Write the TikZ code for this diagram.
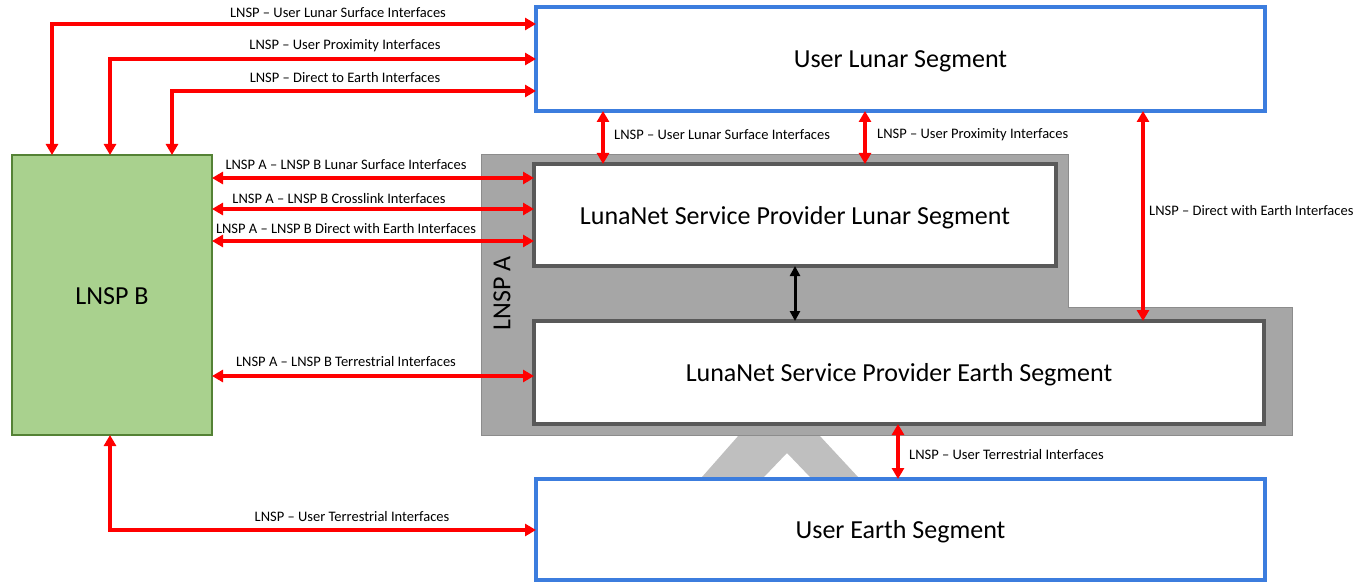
\documentclass[tikz,border=0pt]{standalone}
\usepackage{fontspec}
\setmainfont{Carlito}
\usetikzlibrary{arrows.meta}

\begin{document}
\begin{tikzpicture}[x = 1pt, y = -1pt,
  box/.style = {line width = 4pt, fill = white, inner sep = 0pt, outer sep = 0pt, anchor = north west, text height = 18pt, text depth = 0pt, font = \fontsize{26}{30}\selectfont},
  userSeg/.style = {box, draw = userblue, minimum width = 729pt},
  lnspSeg/.style = {box, draw = segedge, line width = 4.5pt},
  lbl/.style = {font = \fontsize{14.5}{16}\selectfont, inner sep = 0pt},
  redArrow/.style = {draw = red, line width = 3.5pt, arrows = {Triangle[length = 11pt, width = 12pt]-Triangle[length = 11pt, width = 12pt]}},
  blackArrow/.style = {draw = black, line width = 3pt, arrows = {Triangle[length = 10pt, width = 10pt]-Triangle[length = 10pt, width = 10pt]}}]
\definecolor{userblue}{RGB}{60,125,222}
\definecolor{segedge}{RGB}{89,89,89}
\definecolor{lnspgray}{RGB}{166,166,166}
\definecolor{lnspedge}{RGB}{140,140,140}
\definecolor{standgray}{RGB}{191,191,191}
\definecolor{lnspgreen}{RGB}{169,209,142}
\definecolor{greenedge}{RGB}{84,130,53}
\useasboundingbox (0,0) rectangle (1369,583);
\fill [standgray] (739,435) -- (819,435) -- (858,477) -- (810,477) -- (787,453) -- (764,477) -- (702,477) -- cycle;
\draw [fill = lnspgray, draw = lnspedge, line width = 1pt] (481,155) -- (1068,155) -- (1068,307) -- (1292,307) -- (1292,435) -- (481,435) -- cycle;
\node [rotate = 90, font = \fontsize{26}{30}\selectfont] (lnspA) at (502,293) {LNSP A};
\node [userSeg, minimum height = 104pt] (userLunar) at (536,7) {User Lunar Segment};
\node [lnspSeg, minimum width = 522pt, minimum height = 102pt] (lnspLunar) at (534,164) {LunaNet Service Provider Lunar Segment};
\node [lnspSeg, minimum width = 730pt, minimum height = 103pt] (lnspEarth) at (534,321) {LunaNet Service Provider Earth Segment};
\node [userSeg, minimum height = 101pt] (userEarth) at (536,479) {User Earth Segment};
\node [box, draw = greenedge, fill = lnspgreen, line width = 1.2pt, minimum width = 200pt, minimum height = 280pt] (lnspB) at (12,155) {LNSP B};
\foreach \ya/\xa in {24/52, 59/110, 91/172} \draw [redArrow] (userLunar.west |- 0,\ya) -| (lnspB.north -| \xa,0);
\foreach \yb in {178, 209, 241} \draw [redArrow] (lnspB.east |- 0,\yb) -- (lnspLunar.west |- 0,\yb);
\draw [redArrow] (lnspB.east |- 0,376) -- (lnspEarth.west |- 0,376);
\draw [redArrow] (lnspB.south -| 110,0) |- (userEarth.west |- 0,530);
\foreach \xc in {603, 865} \draw [redArrow] (userLunar.south -| \xc,0) -- (lnspLunar.north -| \xc,0);
\draw [redArrow] (userLunar.south -| 1143,0) -- (lnspEarth.north -| 1143,0);
\draw [redArrow] (lnspEarth.south -| 898,0) -- (userEarth.north -| 898,0);
\draw [blackArrow] (lnspLunar.south -| 795,0) -- (lnspEarth.north -| 795,0);
\node [lbl] (lblSurf) at (338,13) {LNSP – User Lunar Surface Interfaces};
\node [lbl] (lblProx) at (345,46) {LNSP – User Proximity Interfaces};
\node [lbl] (lblDte) at (345,78) {LNSP – Direct to Earth Interfaces};
\node [lbl] (lblABSurf) at (346,165) {LNSP A – LNSP B Lunar Surface Interfaces};
\node [lbl] (lblABCross) at (339,199) {LNSP A – LNSP B Crosslink Interfaces};
\node [lbl] (lblABDwe) at (346,229) {LNSP A – LNSP B Direct with Earth Interfaces};
\node [lbl] (lblABTerr) at (346,362) {LNSP A – LNSP B Terrestrial Interfaces};
\node [lbl] (lblTerr) at (352,517) {LNSP – User Terrestrial Interfaces};
\node [lbl, anchor = west] (lblVSurf) at (614,135) {LNSP – User Lunar Surface Interfaces};
\node [lbl, anchor = west] (lblVProx) at (877,135) {LNSP – User Proximity Interfaces};
\node [lbl, anchor = west] (lblVDwe) at (1149,211) {LNSP – Direct with Earth Interfaces};
\node [lbl, anchor = west] (lblVTerr) at (909,455) {LNSP – User Terrestrial Interfaces};
\end{tikzpicture}
\end{document}
